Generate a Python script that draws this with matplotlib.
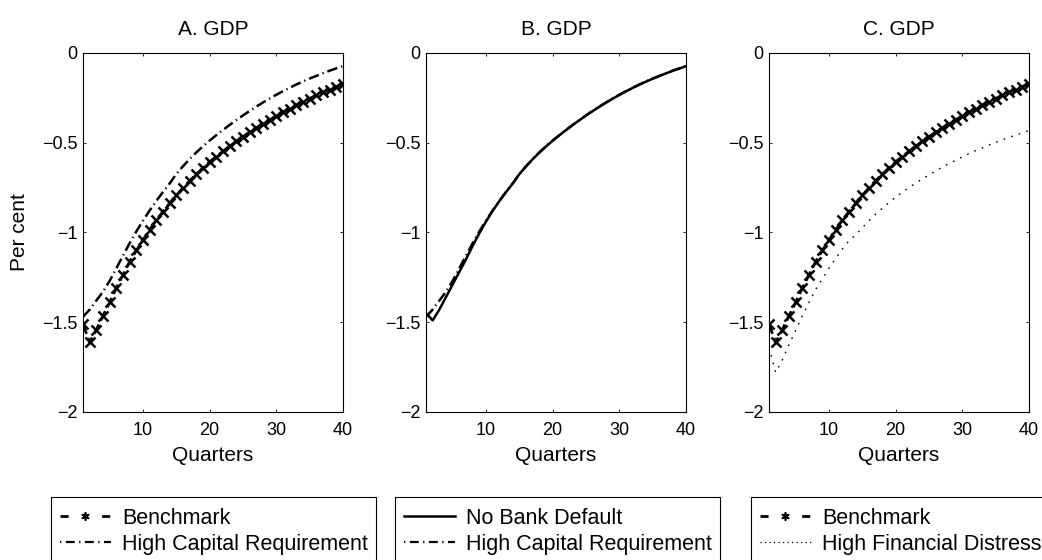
import matplotlib
matplotlib.use('Agg')
import matplotlib.pyplot as plt
from matplotlib.lines import Line2D
from matplotlib.patches import Rectangle
import numpy as np

plt.rcParams['font.family'] = ['Liberation Sans', 'DejaVu Sans']

quarters = np.arange(1, 41)

# GDP responses, per cent
benchmark = [-1.511, -1.613, -1.542, -1.464, -1.390, -1.310, -1.237, -1.163, -1.101, -1.042,
             -0.986, -0.932, -0.884, -0.838, -0.794, -0.752, -0.713, -0.677, -0.641, -0.607,
             -0.578, -0.549, -0.521, -0.494, -0.468, -0.443, -0.419, -0.396, -0.374, -0.352,
             -0.331, -0.311, -0.292, -0.273, -0.255, -0.238, -0.221, -0.205, -0.189, -0.173]

high_cap_req = [-1.47, -1.43, -1.38, -1.33, -1.27, -1.20, -1.13, -1.06, -0.995, -0.935,
                -0.878, -0.825, -0.775, -0.728, -0.675, -0.632, -0.592, -0.555, -0.521, -0.489,
                -0.459, -0.430, -0.402, -0.375, -0.349, -0.324, -0.300, -0.277, -0.255, -0.234,
                -0.214, -0.195, -0.177, -0.160, -0.144, -0.129, -0.114, -0.100, -0.087, -0.074]

no_bank_default = [-1.45, -1.49, -1.43, -1.36, -1.29, -1.22, -1.15, -1.075, -1.005, -0.94,
                   -0.880, -0.826, -0.776, -0.729, -0.676, -0.633, -0.593, -0.556, -0.522, -0.490,
                   -0.460, -0.431, -0.403, -0.376, -0.350, -0.325, -0.301, -0.278, -0.256, -0.235,
                   -0.215, -0.196, -0.178, -0.161, -0.145, -0.130, -0.115, -0.101, -0.088, -0.075]

high_fin_distress = [-1.64, -1.78, -1.71, -1.625, -1.545, -1.465, -1.39, -1.318, -1.258, -1.200,
                     -1.145, -1.093, -1.047, -1.014, -0.974, -0.935, -0.899, -0.866, -0.834, -0.803,
                     -0.777, -0.751, -0.726, -0.703, -0.680, -0.658, -0.637, -0.617, -0.599, -0.580,
                     -0.562, -0.545, -0.530, -0.514, -0.499, -0.485, -0.471, -0.459, -0.446, -0.433]

titles = ['A. GDP', 'B. GDP', 'C. GDP']
yticks = [0, -0.5, -1, -1.5, -2]
ytick_labels = ['0', '\u22120.5', '\u22121', '\u22121.5', '\u22122']
xticks = [10, 20, 30, 40]

W, H = 1042, 560
fig = plt.figure(figsize=(W / 100, H / 100), dpi=100)

lefts = [83, 426, 769]
ax_w, ax_top, ax_bot = 260, 52.7, 412

# line styles
bench_kw = dict(color='k', ls='--', lw=2.0, marker='x', ms=6.5, mew=1.8)
hcr_kw = dict(color='k', lw=1.8, dashes=(4.2, 1.6, 0.5, 1.6))
nbd_kw = dict(color='k', ls='-', lw=1.8)
hfd_kw = dict(color='k', lw=1.0, dashes=(1.2, 4.5))

axes = []
for i, left in enumerate(lefts):
    ax = fig.add_axes([left / W, 1 - ax_bot / H, ax_w / W, (ax_bot - ax_top) / H])
    axes.append(ax)
    ax.set_xlim(1, 40)
    ax.set_ylim(-2, 0)
    ax.set_xticks(xticks)
    ax.set_yticks(yticks)
    ax.set_yticklabels(ytick_labels)
    ax.tick_params(direction='in', top=True, right=True, length=2.5, width=0.6,
                   labelsize=13, pad=4)
    ax.tick_params(axis='x', pad=7)
    for s in ax.spines.values():
        s.set_linewidth(0.8)
    ax.set_title(titles[i], fontsize=15, pad=13)
    ax.set_xlabel('Quarters', fontsize=15, labelpad=5)

axes[0].set_ylabel('Per cent', fontsize=15, labelpad=9)

axes[0].plot(quarters, benchmark, **bench_kw)
axes[0].plot(quarters, high_cap_req, **hcr_kw)

axes[1].plot(quarters, no_bank_default, **nbd_kw)
axes[1].plot(quarters, high_cap_req, **hcr_kw)

axes[2].plot(quarters, benchmark, **bench_kw)
axes[2].plot(quarters, high_fin_distress, **hfd_kw)

# legends below the panels, boxes run past the bottom edge
h_bench = Line2D([], [], color='k', lw=2.0, dashes=(2.9, 12.1),
                 marker=(6, 2, 0), ms=6, mew=1.2)
h_hcr = Line2D([], [], color='k', lw=1.6, dashes=(0.6, 2.0, 4.0, 2.0))
h_nbd = Line2D([], [], color='k', lw=1.8)
h_hfd = Line2D([], [], color='k', lw=0.9, dashes=(1.0, 2.6))

legends = [
    (51, [h_bench, h_hcr], ['Benchmark', 'High Capital Requirement']),
    (395, [h_nbd, h_hcr], ['No Bank Default', 'High Capital Requirement']),
    (751, [h_bench, h_hfd], ['Benchmark', 'High Financial Distress']),
]
box_top = 497
for x0, handles, labels in legends:
    fig.add_artist(Rectangle((x0 / W, -0.1), 325 / W, 0.1 + 1 - box_top / H,
                             transform=fig.transFigure, fill=False, lw=0.8,
                             edgecolor='k'))
    fig.legend(handles, labels, loc='upper left',
               bbox_to_anchor=((x0 + 9) / W, 1 - 508 / H),
               frameon=False, fontsize=15.5, handlelength=2.35, handletextpad=0.55,
               borderpad=0, borderaxespad=0, labelspacing=0.22, numpoints=1)

fig.savefig('out.png', dpi=100)
